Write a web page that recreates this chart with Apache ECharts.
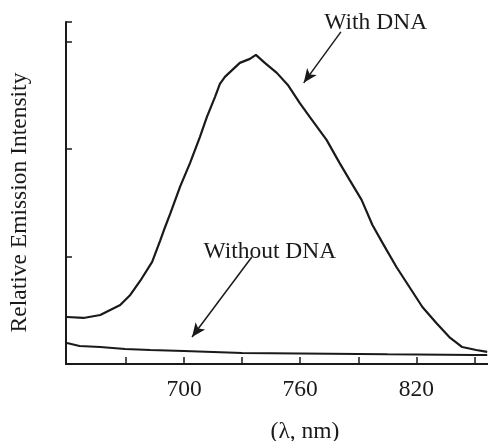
<!DOCTYPE html>
<html>
<head>
<meta charset="utf-8">
<script src="https://cdn.jsdelivr.net/npm/echarts@6/dist/echarts.min.js"></script>
<style>
  html, body { margin: 0; padding: 0; background: #fff; }
  #chart { width: 488px; height: 441px; }
</style>
</head>
<body>
<div id="chart"></div>
<script>
// wavelength (nm) / relative intensity
const withDnaX = [639.5, 648, 656.7, 667, 672.2, 677.3, 683.5, 687.6, 690.2, 692.8, 697.9, 703.1, 708.2, 711.8, 716, 718.5, 721.1, 723.7, 728.8, 734, 737.1, 741.7, 747.9, 753.6, 759.7, 764.9, 773.6, 780.3, 785.5, 791.7, 797.3, 802.5, 809.7, 816.4, 823.1, 830.3, 837, 843.7, 850.9, 856.6]
const withDnaY = [0.437, 0.428, 0.456, 0.549, 0.642, 0.772, 0.949, 1.144, 1.274, 1.395, 1.647, 1.87, 2.112, 2.298, 2.484, 2.605, 2.67, 2.714, 2.8, 2.837, 2.874, 2.8, 2.707, 2.595, 2.428, 2.298, 2.084, 1.87, 1.712, 1.526, 1.293, 1.126, 0.902, 0.716, 0.53, 0.381, 0.251, 0.158, 0.13, 0.112]

const withoutDnaX = [639.5, 646, 656.7, 669.5, 682.5, 700, 715, 730, 745, 760, 775, 790, 805, 820, 835, 850, 856.6]
const withoutDnaY = [0.195, 0.167, 0.158, 0.14, 0.13, 0.121, 0.112, 0.102, 0.1, 0.098, 0.095, 0.093, 0.09, 0.088, 0.086, 0.084, 0.084]

const xLabels = [700, 760, 820]
const xTicks = [670, 700, 730, 760, 790, 820, 850]

const font = "'Liberation Serif', 'Times New Roman', serif"
const ink = '#1a1a1a'

const pairs = (xs, ys) => xs.map((x, i) => [x, ys[i]])

const label = (text, coord) => ({
  coord: coord,
  symbol: 'circle',
  symbolSize: 1,
  itemStyle: { color: 'rgba(0,0,0,0)' },
  label: { show: true, position: 'inside', formatter: text, color: ink, fontFamily: font, fontSize: 23.5 }
})

const arrow = (from, to) => [
  { coord: from, symbol: 'none' },
  { coord: to, symbol: 'arrow', symbolSize: [9, 14] }
]

var myChart = echarts.init(document.getElementById('chart'), null, { renderer: 'canvas' })

var option = {
  animation: false,
  grid: { left: 66, top: 22, right: 0, bottom: 77, containLabel: false, outerBoundsMode: 'none' },
  xAxis: {
    type: 'value',
    min: 639,
    max: 857,
    name: '(λ, nm)',
    nameLocation: 'middle',
    nameGap: 56,
    nameTextStyle: { color: ink, fontFamily: font, fontSize: 23.5, padding: [0, 0, 0, 56] },
    axisLine: { show: true, lineStyle: { color: ink, width: 2 } },
    axisTick: { show: true, inside: true, length: 7, customValues: xTicks, lineStyle: { color: ink, width: 1.5 } },
    axisLabel: { customValues: xLabels, color: ink, fontFamily: font, fontSize: 23.5, margin: 14 },
    splitLine: { show: false }
  },
  yAxis: {
    type: 'value',
    min: 0,
    max: 3.18,
    interval: 1,
    name: 'Relative Emission Intensity',
    nameLocation: 'middle',
    nameGap: 34,
    nameTextStyle: { color: ink, fontFamily: font, fontSize: 23.5, padding: [0, 19, 0, 0] },
    axisLine: { show: true, lineStyle: { color: ink, width: 2 } },
    axisTick: { show: true, inside: true, length: 6, lineStyle: { color: ink, width: 1.5 } },
    axisLabel: { show: false },
    splitLine: { show: false }
  },
  series: [
    {
      name: 'With DNA',
      type: 'line',
      data: pairs(withDnaX, withDnaY),
      showSymbol: false,
      lineStyle: { color: ink, width: 2.2 },
      clip: false,
      markLine: {
        silent: true,
        label: { show: false },
        lineStyle: { color: ink, width: 1.5, type: 'solid' },
        data: [arrow([781, 3.088], [761.8, 2.614])]
      },
      markPoint: {
        silent: true,
        data: [label('With DNA', [799, 3.17])]
      }
    },
    {
      name: 'Without DNA',
      type: 'line',
      data: pairs(withoutDnaX, withoutDnaY),
      showSymbol: false,
      lineStyle: { color: ink, width: 2 },
      clip: false,
      markLine: {
        silent: true,
        label: { show: false },
        lineStyle: { color: ink, width: 1.5, type: 'solid' },
        data: [arrow([735, 0.995], [704.1, 0.251])]
      },
      markPoint: {
        silent: true,
        data: [label('Without DNA', [744.3, 1.042])]
      }
    }
  ]
}
myChart.setOption(option, true)
</script>
</body>
</html>
